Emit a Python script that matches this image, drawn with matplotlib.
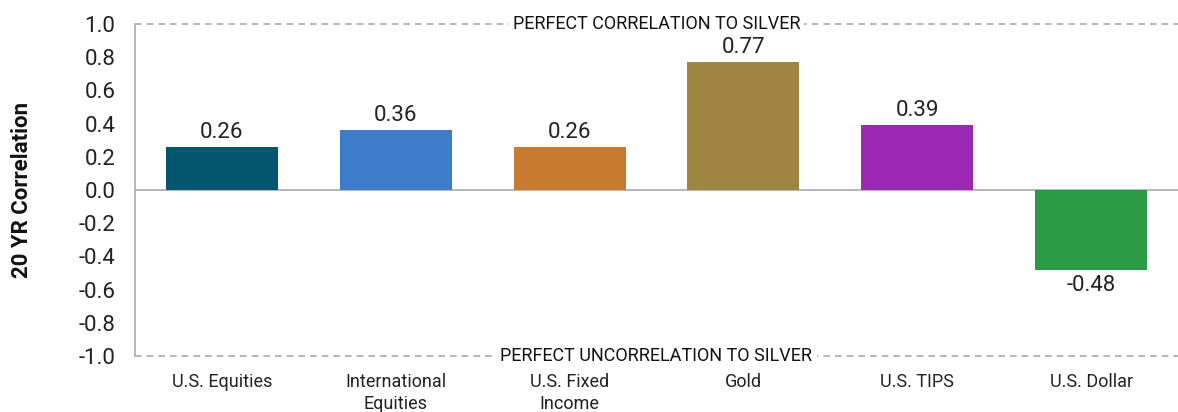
import matplotlib
matplotlib.use('Agg')
import matplotlib.pyplot as plt

plt.rcParams['font.family'] = ['Roboto', 'DejaVu Sans']

# ── Data ───────────────────────────────────────────────────────────────────────
categories = ['U.S. Equities', 'International\nEquities', 'U.S. Fixed\nIncome',
              'Gold', 'U.S. TIPS', 'U.S. Dollar']
correlations = [0.26, 0.36, 0.26, 0.77, 0.39, -0.48]
bar_colors = ['#03566f', '#3d7cc9', '#c87a30', '#9e8642', '#9b28b3', '#2a9a45']
y_ticks = [1.0, 0.8, 0.6, 0.4, 0.2, 0.0, -0.2, -0.4, -0.6, -0.8, -1.0]

# ── Figure ─────────────────────────────────────────────────────────────────────
fig = plt.figure(figsize=(11.78, 4.12), dpi=100)
ax = fig.add_axes([135 / 1178, 1 - 356 / 412, 1 - 135 / 1178, (356 - 24) / 412])

x = range(len(categories))
ax.bar(x, correlations, width=0.644, color=bar_colors, zorder=3)

for xi, v in zip(x, correlations):
    if v >= 0:
        ax.text(xi, v + 0.025, f'{v:.2f}', ha='center', va='bottom', fontsize=16, color='#222222')
    else:
        ax.text(xi, v - 0.03, f'{v:.2f}', ha='center', va='top', fontsize=16, color='#222222')

ax.set_xlim(-0.5, len(categories) - 0.5)
ax.set_ylim(-1.0, 1.0)
ax.set_yticks(y_ticks)
ax.set_yticklabels([f'{t:.1f}' for t in y_ticks], fontsize=16, color='#222222')
ax.set_xticks(list(x))
ax.set_xticklabels(categories, fontsize=13, color='#222222', linespacing=1.3)
ax.tick_params(axis='y', length=0, pad=14)
ax.tick_params(axis='x', length=0, pad=12)

for s in ['top', 'right', 'bottom']:
    ax.spines[s].set_visible(False)
ax.spines['left'].set_color('#aaaaaa')
ax.spines['left'].set_linewidth(1.2)

ax.axhline(0, color='#aaaaaa', linewidth=1.2, zorder=2)
ax.axhline(1.0, color='#aaaaaa', linewidth=1.2, linestyle=(0, (4, 3)), zorder=1, clip_on=False)
ax.axhline(-1.0, color='#aaaaaa', linewidth=1.2, linestyle=(0, (4, 3)), zorder=1, clip_on=False)

mid = (len(categories) - 1) / 2
box = dict(facecolor='white', edgecolor='none', pad=3)
ax.text(mid, 1.0, 'PERFECT CORRELATION TO SILVER', ha='center', va='center',
        fontsize=13, color='#111111', bbox=box, zorder=4)
ax.text(mid, -1.0, 'PERFECT UNCORRELATION TO SILVER', ha='center', va='center',
        fontsize=13, color='#111111', bbox=box, zorder=4)

fig.text(22 / 1178, 1 - 190 / 412, '20 YR Correlation', rotation=90, ha='center', va='center',
         fontsize=16, fontweight='bold', color='#111111')

plt.savefig('out.png', dpi=100)
